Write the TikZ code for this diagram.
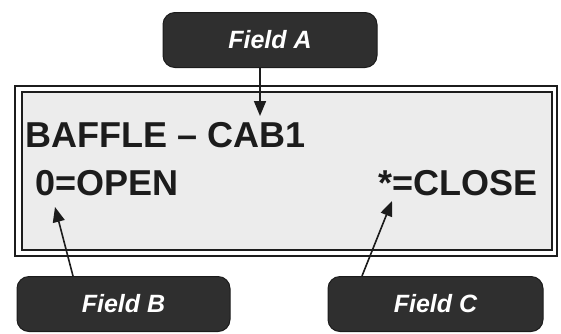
\documentclass[tikz,border=0pt]{standalone}
\usepackage{fontspec}
\setmainfont{Liberation Sans}
\usetikzlibrary{arrows.meta}
\definecolor{boxdark}{HTML}{2F2F2F}
\definecolor{ink}{HTML}{1C1C1C}
\definecolor{panel}{HTML}{ECECEC}
\tikzset{
  fieldbox/.style={draw=ink, fill=boxdark, rounded corners=12pt, line width=1pt,
    text=white, font=\fontsize{25}{28}\selectfont\bfseries\itshape,
    inner sep=0pt, minimum height=55pt},
  disptext/.style={text=ink, font=\fontsize{36}{40}\selectfont\bfseries, inner sep=0pt},
  frameline/.style={draw=ink, line width=2pt},
  pointer/.style={draw=ink, line width=1.6pt, -{Triangle[length=15pt,width=12pt]}}
}
\begin{document}
\begin{tikzpicture}[x=1pt,y=-1pt]
  \useasboundingbox (0,0) rectangle (561,333);
  % display frame
  \draw[frameline, fill=white] (15,86) rectangle (557,256);
  \draw[frameline, fill=panel] (21.5,92) rectangle (551.5,250);
  % display texts
  \node[disptext, anchor=base west] (l1) at (25,147) {BAFFLE – CAB1};
  \node[disptext, anchor=base west] (l2) at (35,195) {0=OPEN};
  \node[disptext, anchor=base east] (l3) at (538,195) {*=CLOSE};
  % field labels
  \node[fieldbox, minimum width=214pt] (fa) at (270,40) {Field A};
  \node[fieldbox, minimum width=213pt] (fb) at (123.5,304) {Field B};
  \node[fieldbox, minimum width=215pt] (fc) at (435.5,304) {Field C};
  % pointer tips
  \coordinate (ta) at (260,116);
  \coordinate (tb) at (55,207);
  \coordinate (tc) at (392,201);
  % pointers
  \draw[pointer] (ta |- fa.south) -- (ta);
  \draw[pointer] ([xshift=-50.5pt]fb.north) -- (tb);
  \draw[pointer] ([xshift=-73.5pt]fc.north) -- (tc);
\end{tikzpicture}
\end{document}
